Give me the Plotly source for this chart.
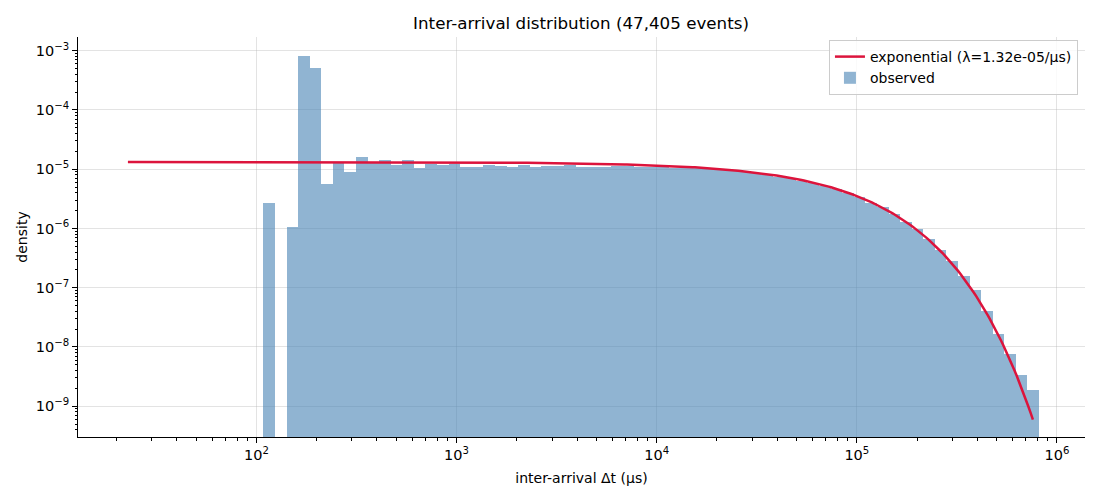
import numpy as np
import plotly.graph_objects as go

# ---- data ----
bin_min = 108.4          # left edge of first histogram bin (µs)
bin_max = 813000.0       # right edge of last histogram bin (µs)
n_bins = 67
density = [2.70e-6, None, 1.06e-6, 8.23e-4, 5.16e-4, 5.66e-6, 1.27e-5, 9.04e-6, 1.62e-5, 1.30e-5,
           1.44e-5, 1.20e-5, 1.44e-5, 1.057e-5, 1.23e-5, 1.20e-5, 1.23e-5, 1.10e-5, 1.085e-5, 1.20e-5,
           1.14e-5, 1.085e-5, 1.20e-5, 1.11e-5, 1.155e-5, 1.155e-5, 1.19e-5, 1.10e-5, 1.11e-5, 1.11e-5,
           1.14e-5, 1.14e-5, 1.11e-5, 1.07e-5, 1.07e-5, 1.057e-5, 1.045e-5, 1.03e-5, 1.00e-5, 9.7e-6,
           9.35e-6, 8.95e-6, 8.5e-6, 8.05e-6, 7.5e-6, 7.0e-6, 6.4e-6, 5.8e-6, 5.2e-6, 4.55e-6,
           3.95e-6, 3.39e-6, 2.74e-6, 2.29e-6, 1.77e-6, 1.31e-6, 9.8e-7, 6.59e-7, 4.36e-7, 2.84e-7,
           1.58e-7, 9.2e-8, 4.07e-8, 1.66e-8, 7.6e-9, 3.36e-9, 1.89e-9]
lam = 1.32e-5            # fitted rate (1/µs)
fit_t_min = 22.8
fit_t_max = 758000.0
n_events = "47,405"

x_tick_vals = [1e2, 1e3, 1e4, 1e5, 1e6]
x_tick_text = ["10<sup>2</sup>", "10<sup>3</sup>", "10<sup>4</sup>", "10<sup>5</sup>", "10<sup>6</sup>"]
y_tick_vals = [1e-9, 1e-8, 1e-7, 1e-6, 1e-5, 1e-4, 1e-3]
y_tick_text = ["10<sup>−9</sup>", "10<sup>−8</sup>", "10<sup>−7</sup>", "10<sup>−6</sup>",
               "10<sup>−5</sup>", "10<sup>−4</sup>", "10<sup>−3</sup>"]

# ---- derived ----
edges = np.logspace(np.log10(bin_min), np.log10(bin_max), n_bins + 1)
lo, hi = edges[:-1], edges[1:]
centers = (lo + hi) / 2
widths = hi - lo

t_fit = np.logspace(np.log10(fit_t_min), np.log10(fit_t_max), 400)
y_fit = lam * np.exp(-lam * t_fit)

minor_x = [k * 10.0 ** d for d in range(1, 7) for k in range(2, 10)]
minor_y = [k * 10.0 ** d for d in range(-10, -2) for k in range(2, 10)]

FONT = "DejaVu Sans"
W, H = 1092, 492   # page body has an 8px margin

fig = go.Figure()
fig.add_trace(go.Bar(
    x=centers, y=density, width=widths,
    marker=dict(color="rgba(70,130,180,0.6)", line=dict(width=0)),
    name="observed", legendrank=2,
))
fig.add_trace(go.Scatter(
    x=t_fit, y=y_fit, mode="lines",
    line=dict(color="#DC143C", width=2.5),
    name="exponential (λ=1.32e-05/μs)", legendrank=1,
))

grid = "rgba(176,176,176,0.35)"
fig.update_layout(
    width=W, height=H,
    margin=dict(l=70, r=15, t=29, b=63, autoexpand=False),
    paper_bgcolor="white", plot_bgcolor="white",
    font=dict(family=FONT, size=14, color="black"),
    bargap=0,
    title=dict(text=f"Inter-arrival distribution ({n_events} events)",
               x=573 / W, xanchor="center", y=1 - 15 / H, yanchor="middle",
               font=dict(size=16.7, family=FONT)),
    legend=dict(x=0.993, xanchor="right", y=0.9925, yanchor="top",
                bgcolor="rgba(255,255,255,0.8)", bordercolor="#cccccc", borderwidth=1,
                font=dict(size=14, family=FONT), tracegroupgap=0),
    showlegend=True,
)
fig.update_xaxes(
    type="log", range=[1.1085, 6.14], automargin=False,
    tickvals=x_tick_vals, ticktext=x_tick_text,
    ticks="outside", ticklen=5, tickwidth=1, tickcolor="black",
    showline=True, linecolor="black", linewidth=1, mirror=False,
    showgrid=True, gridcolor=grid, gridwidth=1, zeroline=False,
    minor=dict(tickvals=minor_x, ticks="outside", ticklen=2.5, tickwidth=0.8,
               tickcolor="black", showgrid=False),
    title=dict(text="inter-arrival Δt (μs)", font=dict(size=14, family=FONT), standoff=10),
    tickfont=dict(size=14.5, family=FONT),
)
fig.update_yaxes(
    type="log", range=[-9.519, -2.769], automargin=False,
    tickvals=y_tick_vals, ticktext=y_tick_text,
    ticks="outside", ticklen=5, tickwidth=1, tickcolor="black",
    showline=True, linecolor="black", linewidth=1, mirror=False,
    showgrid=True, gridcolor=grid, gridwidth=1, zeroline=False,
    minor=dict(tickvals=minor_y, ticks="outside", ticklen=2.5, tickwidth=0.8,
               tickcolor="black", showgrid=False),
    title=dict(text="density", font=dict(size=14, family=FONT), standoff=4),
    tickfont=dict(size=14.5, family=FONT),
)

fig.write_html("out.html")
